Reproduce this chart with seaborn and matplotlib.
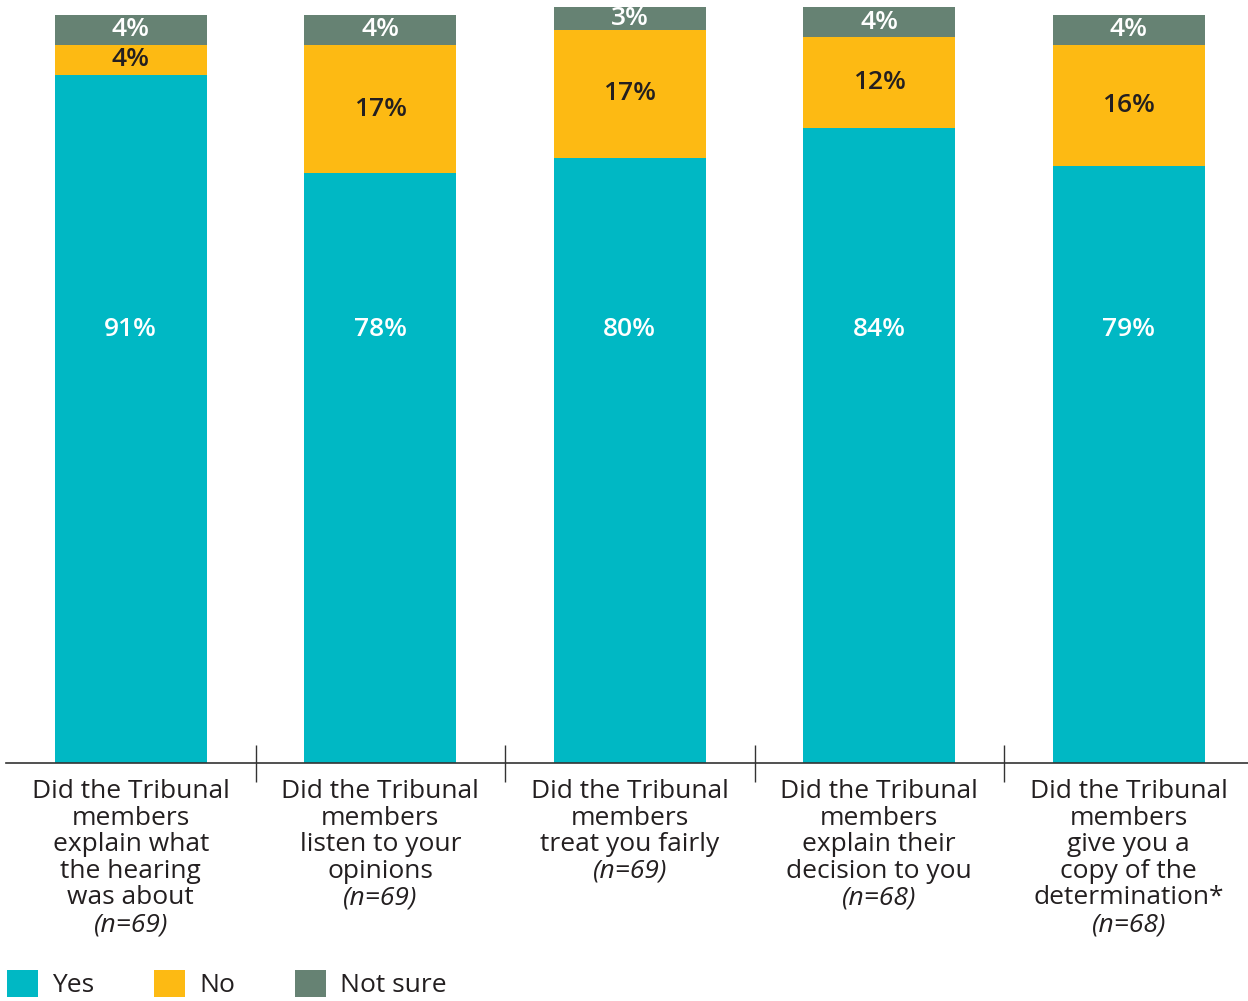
import numpy as np
import pandas as pd
import seaborn as sns
import matplotlib.pyplot as plt
from matplotlib.patches import Patch
from matplotlib.ticker import FixedLocator

# ---------------- data ----------------
questions = [
    ["Did the Tribunal", "members", "explain what", "the hearing", "was about"],
    ["Did the Tribunal", "members", "listen to your", "opinions"],
    ["Did the Tribunal", "members", "treat you fairly"],
    ["Did the Tribunal", "members", "explain their", "decision to you"],
    ["Did the Tribunal", "members", "give you a", "copy of the", "determination*"],
]
sample_sizes = ["(n=69)", "(n=69)", "(n=69)", "(n=68)", "(n=68)"]
keys = ["Q1", "Q2", "Q3", "Q4", "Q5"]
yes = [91, 78, 80, 84, 79]
no = [4, 17, 17, 12, 16]
not_sure = [4, 4, 3, 4, 4]
series_names = ["Yes", "No", "Not sure"]

# ---------------- style ----------------
C_YES = "#00B8C4"
C_NO = "#FDBA13"
C_NS = "#668273"
TXT = "#231F20"

sns.set_theme(style="white")
plt.rcParams["font.family"] = ["Open Sans", "DejaVu Sans"]

W, H = 1248, 1001
fig = plt.figure(figsize=(W / 100, H / 100), dpi=100)
ax = fig.add_axes([6 / W, (H - 763) / H, 1242 / W, 756 / H])

df = pd.DataFrame({"q": keys, "yes": yes, "no": no, "ns": not_sure})
df["yes_no"] = df["yes"] + df["no"]
df["total"] = df["yes_no"] + df["ns"]

bw = 152 / 249.5
for col, c in [("total", C_NS), ("yes_no", C_NO), ("yes", C_YES)]:
    sns.barplot(data=df, x="q", y=col, order=keys, color=c, saturation=1,
                width=bw, ax=ax, linewidth=0, edgecolor="none")

ax.set_xlim(-0.5, -0.5 + 1242 / 249.5)
ax.set_ylim(0, 100)
ax.set_xlabel("")
ax.set_ylabel("")
ax.set_yticks([])
for s in ["left", "right", "top"]:
    ax.spines[s].set_visible(False)
ax.spines["bottom"].set_color("#333333")
ax.spines["bottom"].set_linewidth(1.2)
ax.set_xticks(range(len(keys)))
ax.set_xticklabels([])
ax.tick_params(axis="x", which="major", length=0)
ax.xaxis.set_minor_locator(FixedLocator([i + 0.5 for i in range(len(keys) - 1)]))
ax.tick_params(axis="x", which="minor", bottom=True, length=37 * 0.72,
               direction="inout", width=1.0, color="#333333")

# value labels
FS = 19
VFS = 19
for i in range(len(keys)):
    ax.text(i, 57.3, f"{yes[i]}%", ha="center", va="center", color="white",
            fontsize=VFS, fontweight="semibold")
    ax.text(i, yes[i] + no[i] / 2, f"{no[i]}%", ha="center", va="center",
            color=TXT, fontsize=VFS, fontweight="semibold")
    ax.text(i, yes[i] + no[i] + not_sure[i] / 2, f"{not_sure[i]}%", ha="center",
            va="center", color="white", fontsize=VFS, fontweight="semibold")

# category labels
LH = 26.6  # px per line
for i, lines in enumerate(questions):
    for j, line in enumerate(lines + [sample_sizes[i]]):
        off = -(35 + j * LH) * 0.72
        ax.annotate(line, xy=(i, 0), xycoords=("data", "axes fraction"),
                    xytext=(0, off), textcoords="offset points",
                    ha="center", va="baseline", fontsize=FS, color=TXT,
                    style="italic" if j == len(lines) else "normal",
                    annotation_clip=False)

# legend
handles = [Patch(facecolor=c, edgecolor="none", label=n)
           for c, n in zip([C_YES, C_NO, C_NS], series_names)]
fig.legend(handles=handles, loc="upper left", bbox_to_anchor=(7 / W, 1 - 970 / H),
           ncol=3, frameon=False, fontsize=FS, handlelength=1.18, handleheight=1.18,
           handletextpad=0.53, columnspacing=2.27, borderpad=0, borderaxespad=0,
           labelcolor=TXT)

fig.savefig("out.png", dpi=100)
